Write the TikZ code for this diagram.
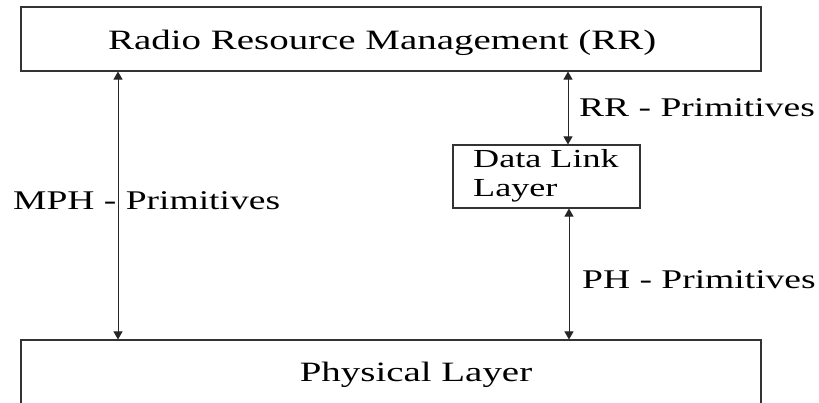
\documentclass[tikz,border=0pt]{standalone}
\usepackage{fontspec}
\setmainfont[FakeStretch=1.39]{Liberation Serif}
\usetikzlibrary{arrows.meta}
\begin{document}
\begin{tikzpicture}[x=1pt,y=1pt,
  boxstyle/.style={draw=black!80,line width=1.1pt,inner sep=0pt,rectangle},
  lbl/.style={inner sep=0pt,anchor=base west,font=\fontsize{27}{32}\selectfont,text=black},
  biglbl/.style={inner sep=0pt,anchor=base west,font=\fontsize{28}{33}\selectfont,text=black},
  smalllbl/.style={inner sep=0pt,anchor=base west,font=\fontsize{26}{29}\selectfont,text=black},
  conn/.style={draw=black!85,line width=0.9pt,{Triangle[width=9pt,length=8pt]}-{Triangle[width=9pt,length=8pt]}}]
\clip (0,0) rectangle (819,-403);
\useasboundingbox (0,0) rectangle (819,-403);
% boxes
\node[boxstyle,minimum width=740pt,minimum height=64pt] (rr) at (391,-39) {};
\node[boxstyle,minimum width=187pt,minimum height=63pt] (dll) at (546.5,-176.5) {};
\node[boxstyle,minimum width=740pt,minimum height=100pt] (phys) at (391,-390) {};
% texts
\node[biglbl] (rrtext) at (108,-50) {Radio Resource Management (RR)};
\node[smalllbl] (dll1) at (473,-168) {Data Link};
\node[smalllbl] (dll2) at (473,-197) {Layer};
\node[biglbl,anchor=base] (phystext) at (416,-381) {Physical Layer};
\node[lbl] (mph) at (13,-210) {MPH - Primitives};
\node[lbl] (rrp) at (579,-117) {RR - Primitives};
\node[lbl] (php) at (582,-289) {PH - Primitives};
% connectors
\coordinate (mx) at (118,-200);
\coordinate (rx) at (568,-100);
\coordinate (px) at (569,-270);
\draw[conn] (rr.south -| mx) -- (phys.north -| mx);
\draw[conn] (rr.south -| rx) -- (dll.north -| rx);
\draw[conn] (dll.south -| px) -- (phys.north -| px);
\end{tikzpicture}
\end{document}
